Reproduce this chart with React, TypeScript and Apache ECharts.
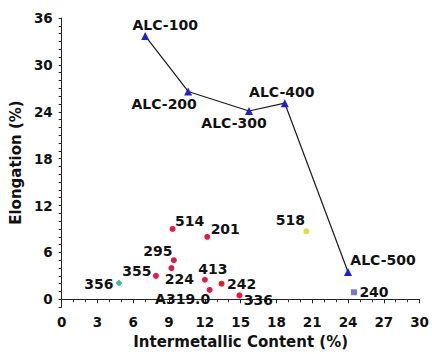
import React, { useEffect, useRef } from "react";
import * as echarts from "echarts";

// ALC alloys (connected line)
const alcNames = ["ALC-100", "ALC-200", "ALC-300", "ALC-400", "ALC-500"];
const alcIntermetallic = [7.0, 10.6, 15.7, 18.7, 24.0];
const alcElongation = [33.7, 26.6, 24.1, 25.1, 3.5];

// Conventional alloys (red circles)
const redNames = ["514", "201", "295", "224", "355", "413", "A319.0", "242", "336"];
const redIntermetallic = [9.3, 12.2, 9.4, 9.2, 7.9, 12.0, 12.4, 13.4, 14.9];
const redElongation = [9.0, 8.0, 5.0, 4.0, 3.0, 2.5, 1.2, 2.0, 0.5];

// Other alloys
const otherNames = ["356", "518", "240"];
const otherIntermetallic = [4.8, 20.5, 24.5];
const otherElongation = [2.1, 8.7, 0.9];

const xTicks = [0, 3, 6, 9, 12, 15, 18, 21, 24, 27, 30];
const yTicks = [0, 6, 12, 18, 24, 30, 36];

// styling (not data)
const labelOffsets: Record<string, [number, number]> = {
  "ALC-100": [20, -11],
  "ALC-200": [-24, 13],
  "ALC-300": [-15, 12],
  "ALC-400": [-3, -11],
  "ALC-500": [35, -12],
  "514": [17, -8],
  "201": [18, -8],
  "295": [-16, -9],
  "224": [8, 11],
  "355": [-19, -5],
  "356": [-20, 1],
  "413": [8, -11],
  "A319.0": [-27, 9],
  "242": [20, 0],
  "336": [19, 5],
  "518": [-16, -11],
  "240": [20, 0],
};
const otherStyles: Record<string, { color: string; symbol: string; size: number }> = {
  "356": { color: "#3dbb95", symbol: "diamond", size: 7 },
  "518": { color: "#d6e23a", symbol: "circle", size: 6 },
  "240": { color: "#7a78d4", symbol: "rect", size: 6 },
};

const FONT = "DejaVu Sans";
const TEXT = "#111111";

function lbl(name: string) {
  const off = labelOffsets[name] || [0, 0];
  return {
    show: true,
    position: "inside",
    offset: off,
    formatter: name,
    fontFamily: FONT,
    fontWeight: "bold",
    fontSize: 14,
    color: TEXT,
    opacity: 1,
    align: "center",
    verticalAlign: "middle",
  };
}

export default function App() {
  const ref = useRef<HTMLDivElement>(null);
  useEffect(() => {
    if (!ref.current) return;
    const chart = echarts.init(ref.current, undefined, { renderer: "svg" });
    const axisText = { fontFamily: FONT, fontWeight: "bold", fontSize: 13.5, color: TEXT };
    chart.setOption({
      animation: false,
      backgroundColor: "#ffffff",
      grid: { left: 59, right: 7, top: 18, bottom: 46, containLabel: false },
      xAxis: {
        type: "value",
        min: 0,
        max: 30,
        interval: 3,
        name: "Intermetallic Content (%)",
        nameLocation: "middle",
        nameGap: 24,
        nameTextStyle: { fontFamily: FONT, fontWeight: "bold", fontSize: 15, color: TEXT },
        axisLine: { show: true, lineStyle: { color: "#222", width: 1 } },
        axisTick: { show: true, length: 4, lineStyle: { color: "#222", width: 1 } },
        minorTick: { show: true, splitNumber: 3, length: 3, lineStyle: { color: "#333", width: 1 } },
        axisLabel: { ...axisText, margin: 8, customValues: xTicks },
        splitLine: { show: false },
        minorSplitLine: { show: false },
      },
      yAxis: {
        type: "value",
        position: "left",
        min: -1,
        max: 36,
        interval: 1,
        name: "Elongation (%)",
        nameLocation: "middle",
        nameGap: 32,
        nameTextStyle: { fontFamily: FONT, fontWeight: "bold", fontSize: 15, color: TEXT },
        axisLine: { show: true, lineStyle: { color: "#222", width: 1 } },
        axisTick: { show: true, length: 3, lineStyle: { color: "#222", width: 1 } },
        axisLabel: { ...axisText, margin: 9, customValues: yTicks },
        splitLine: { show: false },
      },
      series: [
        {
          type: "line",
          symbol: "triangle",
          symbolSize: 8,
          itemStyle: { color: "#1f1fd0", opacity: 1 },
          lineStyle: { color: "#1a1a1a", width: 1.2 },
          data: alcNames.map((n, i) => ({
            name: n,
            value: [alcIntermetallic[i], alcElongation[i]],
            label: lbl(n),
          })),
          z: 3,
        },
        {
          type: "scatter",
          symbol: "circle",
          symbolSize: 6,
          itemStyle: { color: "#e8174a", opacity: 1 },
          data: redNames.map((n, i) => ({
            name: n,
            value: [redIntermetallic[i], redElongation[i]],
            label: lbl(n),
            itemStyle: n === "242" ? { color: "#ea1a22", opacity: 1 } : undefined,
          })),
        },
        {
          type: "scatter",
          itemStyle: { opacity: 1 },
          data: otherNames.map((n, i) => ({
            name: n,
            value: [otherIntermetallic[i], otherElongation[i]],
            symbol: otherStyles[n].symbol,
            symbolSize: otherStyles[n].size,
            itemStyle: { color: otherStyles[n].color, opacity: 1 },
            label: lbl(n),
          })),
        },
      ],
    });
    return () => chart.dispose();
  }, []);
  return (
    <div
      ref={ref}
      style={{ position: "fixed", left: 0, top: 0, width: 432, height: 354, background: "#fff" }}
    />
  );
}
